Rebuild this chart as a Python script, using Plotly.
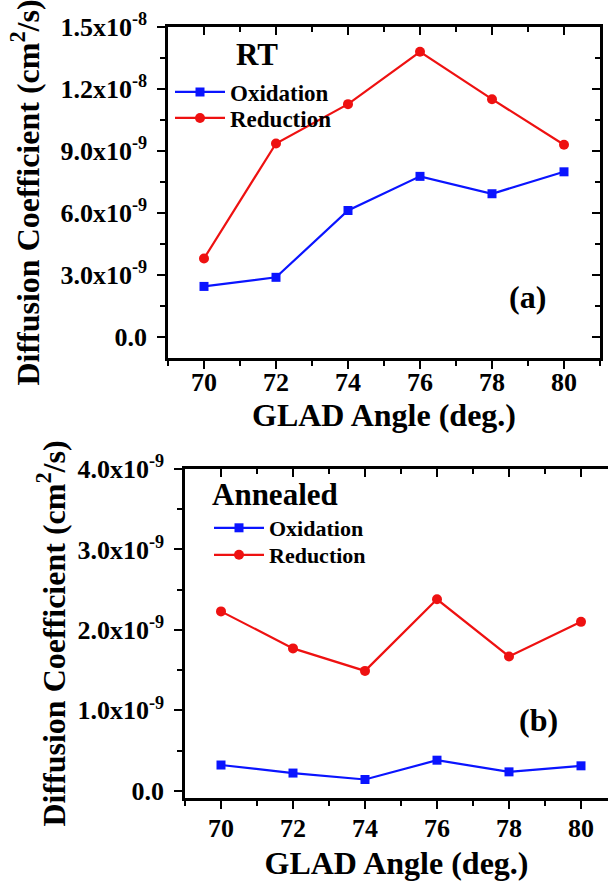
import plotly.graph_objects as go

# ---------------- data ----------------
angles = [70, 72, 74, 76, 78, 80]

rt_oxidation = [2.46e-9, 2.90e-9, 6.13e-9, 7.78e-9, 6.94e-9, 8.00e-9]
rt_reduction = [3.81e-9, 9.37e-9, 11.27e-9, 13.80e-9, 11.51e-9, 9.31e-9]

ann_oxidation = [0.32e-9, 0.22e-9, 0.14e-9, 0.38e-9, 0.235e-9, 0.31e-9]
ann_reduction = [2.23e-9, 1.77e-9, 1.49e-9, 2.38e-9, 1.67e-9, 2.10e-9]

x_tickvals = [70, 72, 74, 76, 78, 80]
x_ticktext = ["70", "72", "74", "76", "78", "80"]

top_tickvals = [0, 3e-9, 6e-9, 9e-9, 1.2e-8, 1.5e-8]
top_ticktext = ["0.0", "3.0x10<sup>-9</sup>", "6.0x10<sup>-9</sup>", "9.0x10<sup>-9</sup>",
                "1.2x10<sup>-8</sup>", "1.5x10<sup>-8</sup>"]

bot_tickvals = [0, 1e-9, 2e-9, 3e-9, 4e-9]
bot_ticktext = ["0.0", "1.0x10<sup>-9</sup>", "2.0x10<sup>-9</sup>", "3.0x10<sup>-9</sup>",
                "4.0x10<sup>-9</sup>"]

# ---------------- style ----------------
FONT = "Liberation Serif"
BLUE = "#0a14ff"
RED = "#ee1111"

W, H = 608, 881
top_xdom = [168 / W, 600 / W]
top_ydom = [1 - 358 / H, 1 - 27 / H]
bot_xdom = [185 / W, 1.0]
bot_ydom = [1 - 798 / H, 1 - 469 / H]

top_xr = [69, 81]
top_yr = [-1e-9, 1.5e-8]
bot_xr = [69, 80.75]
bot_yr = [-0.09e-9, 4e-9]

fig = go.Figure()

def series(x, y, name, color, symbol, size, xa, ya, leg):
    return go.Scatter(x=x, y=y, name=name, mode="lines+markers",
                      line=dict(color=color, width=2.2),
                      marker=dict(symbol=symbol, size=size, color=color),
                      xaxis=xa, yaxis=ya, legend=leg)

# top panel (RT)
fig.add_trace(series(angles, rt_oxidation, "Oxidation", BLUE, "square", 9, "x", "y", "legend"))
fig.add_trace(series(angles, rt_reduction, "Reduction", RED, "circle", 10, "x", "y", "legend2"))
# bottom panel (Annealed)
fig.add_trace(series(angles, ann_oxidation, "Oxidation", BLUE, "square", 9, "x2", "y2", "legend3"))
fig.add_trace(series(angles, ann_reduction, "Reduction", RED, "circle", 10, "x2", "y2", "legend4"))

# dummy traces for mirror axes (inside ticks on top / right)
fig.add_trace(go.Scatter(x=[None], y=[None], xaxis="x3", yaxis="y3", showlegend=False, hoverinfo="skip"))
fig.add_trace(go.Scatter(x=[None], y=[None], xaxis="x4", yaxis="y2", showlegend=False, hoverinfo="skip"))

tickfont = dict(family=FONT, size=26, color="black", weight="bold")
titlefont = dict(family=FONT, size=32, color="black", weight="bold")

common_axis = dict(showgrid=False, zeroline=False, showline=True, linecolor="black", linewidth=2.5,
                   ticks="outside", ticklen=8, tickwidth=2, tickcolor="black", tickfont=tickfont,
                   automargin=False)
mirror_axis = dict(showgrid=False, zeroline=False, showline=True, linecolor="black", linewidth=2.5,
                   ticks="inside", ticklen=8, tickwidth=2, tickcolor="black", showticklabels=False,
                   automargin=False, tickmode="array")

def minor(dt, kind):
    return dict(dtick=dt, tick0=0, ticks=kind, ticklen=5, tickwidth=2, tickcolor="black")

def legend_box(x, y, size):
    return dict(x=x / W, y=1 - y / H, xanchor="left", yanchor="middle",
                bgcolor="rgba(0,0,0,0)", itemwidth=50, tracegroupgap=0,
                font=dict(family=FONT, size=size, color="black", weight="bold"))

fig.update_layout(
    width=W, height=H,
    margin=dict(l=0, r=0, t=0, b=0, autoexpand=False),
    paper_bgcolor="white", plot_bgcolor="white",
    showlegend=True,
    xaxis=dict(domain=top_xdom, range=top_xr, anchor="y", tickmode="array",
               tickvals=x_tickvals, ticktext=x_ticktext, ticklabelstandoff=-9,
               minor=minor(1, "outside"),
               title=dict(text="GLAD Angle (deg.)", font=titlefont, standoff=0),
               **common_axis),
    yaxis=dict(domain=top_ydom, range=top_yr, anchor="x", tickmode="array",
               tickvals=top_tickvals, ticktext=top_ticktext, ticklabelstandoff=5,
               minor=minor(1.5e-9, "outside"),
               title=dict(text="Diffusion Coefficient (cm<sup>2</sup>/s)", font=titlefont, standoff=12),
               **common_axis),
    xaxis3=dict(overlaying="x", side="top", anchor="y", range=top_xr, domain=top_xdom,
                tickvals=x_tickvals, minor=minor(1, "inside"), **mirror_axis),
    yaxis3=dict(overlaying="y", side="right", anchor="x", range=top_yr, domain=top_ydom,
                tickvals=top_tickvals, minor=minor(1.5e-9, "inside"), **mirror_axis),
    xaxis2=dict(domain=bot_xdom, range=bot_xr, anchor="y2", tickmode="array",
                tickvals=x_tickvals, ticktext=x_ticktext, ticklabelstandoff=-3,
                minor=minor(1, "outside"),
                title=dict(text="GLAD Angle (deg.)", font=titlefont, standoff=18),
                **common_axis),
    yaxis2=dict(domain=bot_ydom, range=bot_yr, anchor="x2", tickmode="array",
                tickvals=bot_tickvals, ticktext=bot_ticktext, ticklabelstandoff=5,
                minor=minor(0.5e-9, "outside"),
                title=dict(text="Diffusion Coefficient (cm<sup>2</sup>/s)", font=titlefont, standoff=3),
                **common_axis),
    xaxis4=dict(overlaying="x2", side="top", anchor="y2", range=bot_xr, domain=bot_xdom,
                tickvals=x_tickvals, minor=minor(1, "inside"), **mirror_axis),
    legend=legend_box(170, 92, 23),
    legend2=legend_box(170, 118, 23),
    legend3=legend_box(209, 528, 22),
    legend4=legend_box(209, 555, 22),
    annotations=[
        dict(text="RT", x=257 / W, y=1 - 55 / H, xref="paper", yref="paper", showarrow=False,
             xanchor="center", yanchor="middle",
             font=dict(family=FONT, size=31, color="black", weight="bold")),
        dict(text="Annealed", x=275 / W, y=1 - 495 / H, xref="paper", yref="paper", showarrow=False,
             xanchor="center", yanchor="middle",
             font=dict(family=FONT, size=31, color="black", weight="bold")),
        dict(text="(a)", x=527 / W, y=1 - 297 / H, xref="paper", yref="paper", showarrow=False,
             xanchor="center", yanchor="middle",
             font=dict(family=FONT, size=32, color="black", weight="bold")),
        dict(text="(b)", x=538 / W, y=1 - 720 / H, xref="paper", yref="paper", showarrow=False,
             xanchor="center", yanchor="middle",
             font=dict(family=FONT, size=32, color="black", weight="bold")),
    ],
)

fig.write_html("out.html")
